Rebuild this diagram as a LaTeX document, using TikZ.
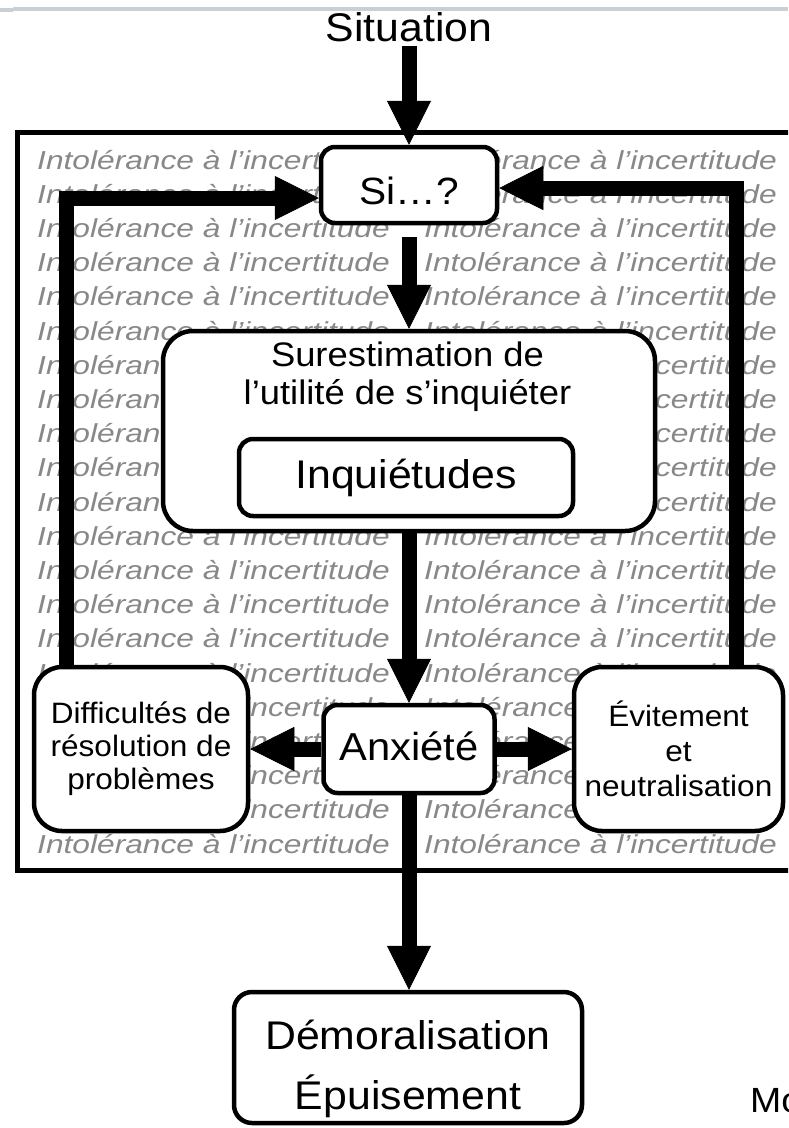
\documentclass[tikz,border=0pt]{standalone}
\usepackage{fontspec}
\setmainfont{Liberation Sans}[FakeStretch=1.07]
\newfontfamily\backfont{Liberation Sans}[FakeStretch=1.22]
\usetikzlibrary{arrows.meta}
\definecolor{topline}{RGB}{200,208,212}
\definecolor{backgray}{RGB}{136,136,136}

\begin{document}
\begin{tikzpicture}[x=1pt, y=-1pt]
		\tikzset{box/.style={draw, line width=4.5pt, fill=white, inner sep=0pt, align=center}}
		\tikzset{arr/.style={line width=15pt, -{Triangle[length=44pt, width=44pt, line width=0.5pt]}}}
		\tikzset{back/.style={anchor=base west, inner sep=0pt, text=backgray,
				font=\backfont\itshape\fontsize{26}{27}\selectfont}}
		\useasboundingbox (0,0) rectangle (788,1128);
		\clip (0,0) rectangle (788,1128);
		%frame
		\draw[topline, line width=4pt] (13,9) -- (788,9);
		\draw[topline, line width=4pt] (0,10) -- (13,10);
		\draw[line width=5pt, fill=white] (17,132) rectangle (820,870);
		\foreach \i in {0,...,20}{
			\node[back] (backL\i) at (37,169+34.2*\i) {Intolérance à l’incertitude};
			\node[back] (backR\i) at (424,169+34.2*\i) {Intolérance à l’incertitude};
		}
		%vertices
		\node[font=\fontsize{40}{44}\selectfont] (sit) at (409,27.5) {Situation};
		\node[box, rounded corners=14pt, minimum width=176pt, minimum height=76pt,
			text height=38pt, text depth=0pt, font=\fontsize{38}{40}\selectfont] (si) at (409,185) {Si…?};
		\node[box, rounded corners=30pt, minimum width=492pt, minimum height=200pt] (sur) at (409,431) {};
		\node[align=center, font=\fontsize{34}{38}\selectfont] (surtxt) at (407.5,377) {Surestimation de\\l’utilité de s’inquiéter};
		\node[box, rounded corners=14pt, minimum width=334pt, minimum height=77pt,
			font=\fontsize{40}{44}\selectfont] (inq) at (406,477.5) {Inquiétudes};
		\node[box, rounded corners=14pt, minimum width=171pt, minimum height=88pt,
			text height=30pt, text depth=8pt, font=\fontsize{39}{42}\selectfont] (anx) at (409,749) {Anxiété};
		\node[box, rounded corners=28pt, minimum width=214pt, minimum height=164pt,
			font=\fontsize{29.5}{33}\selectfont] (diff) at (141,749) {Difficultés de\\résolution de\\problèmes};
		\node[box, rounded corners=28pt, minimum width=209pt, minimum height=164pt,
			font=\fontsize{29.5}{35}\selectfont] (evi) at (678.5,749) {Évitement\\et\\neutralisation};
		\node[box, rounded corners=18pt, minimum width=348pt, minimum height=131pt] (demo) at (408,1057.5) {};
		\node[align=center, font=\fontsize{40}{60}\selectfont] (demotxt) at (408,1069) {Démoralisation\\Épuisement};
		\node[anchor=base west, inner sep=0pt, font=\fontsize{35}{40}\selectfont] (mo) at (750,1112) {Mo};
		%edges
		\draw[arr] (sit) -- (si);
		\draw[arr, shorten <=12pt] (si) -- (si |- sur.north);
		\draw[arr] (sur.south -| anx) -- (anx);
		\draw[arr] (anx) -- (diff);
		\draw[arr] (anx) -- (evi);
		\draw[arr] (anx) -- (anx |- demo.north);
		\draw[arr] ([xshift=35pt]diff.north west) |- ([yshift=-13pt]si.west);
		\draw[arr] ([xshift=-49pt]evi.north east) |- ([yshift=-3pt]si.east);
		
\end{tikzpicture}
\end{document}
